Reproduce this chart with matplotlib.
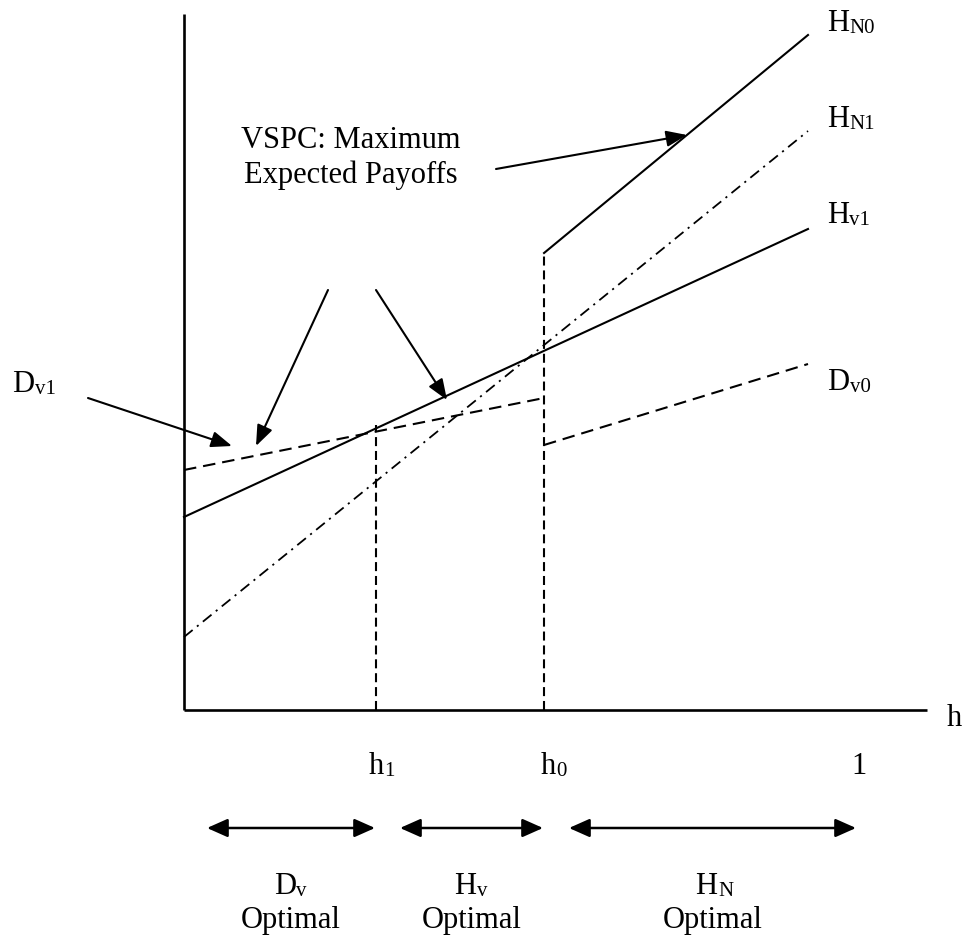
import matplotlib.pyplot as plt

plt.rcParams['font.family'] = ['Liberation Serif', 'DejaVu Serif']
plt.rcParams['lines.scale_dashes'] = False

W, H = 966, 941

# thresholds on the h axis (h = 1 where the payoff lines end)
h1 = 0.308
h0 = 0.577
x_axis_end = 1.19
y_axis_top = 6.96

# expected payoff lines
Dv1_h = [0.0, h0]
Dv1_v = [2.40, 3.12]
Dv0_h = [h0, 1.0]
Dv0_v = [2.65, 3.46]
Hv1_h = [0.0, 1.0]
Hv1_v = [1.93, 4.81]
HN1_h = [0.0, 1.0]
HN1_v = [0.73, 5.79]
HN0_h = [h0, 1.0]
HN0_v = [4.57, 6.75]

# vertical dashed cut-offs
cut_h = [h1, h0]
cut_top = [2.85, 4.57]

# optimal regions along the bottom
regions = ["D", "H", "H"]
region_sub = ["v", "v", "N"]

FS = 22
SUB = 15

fig = plt.figure(figsize=(W / 100, H / 100), dpi=100)
ax = fig.add_axes([0, 0, 1, 1])
ax.set_xlim(-184 / 624, (W - 184) / 624)
ax.set_ylim((710 - H) / 100, 7.10)
ax.axis('off')

# axes
ax.plot([0, 0], [0, y_axis_top], color='black', lw=1.9, solid_capstyle='butt')
ax.plot([0, x_axis_end], [0, 0], color='black', lw=1.9, solid_capstyle='butt')

dash = (9, 5)
dashdot = (8, 4, 1.5, 4)
ax.plot(Dv1_h, Dv1_v, color='black', lw=1.5, dashes=dash)
ax.plot(Dv0_h, Dv0_v, color='black', lw=1.5, dashes=dash)
ax.plot(Hv1_h, Hv1_v, color='black', lw=1.5)
ax.plot(HN1_h, HN1_v, color='black', lw=1.3, dashes=dashdot)
ax.plot(HN0_h, HN0_v, color='black', lw=1.5)
for h, top in zip(cut_h, cut_top):
    ax.plot([h, h], [0, top], color='black', lw=1.5, dashes=(6.5, 3.5))


def fp(x, y):
    return (x, H - y)


def label(x, y, base, sub, ha='left'):
    t = ax.annotate(base, xy=fp(x, y), xycoords='figure pixels',
                    fontsize=FS, ha=ha, va='baseline')
    ax.annotate(sub, xy=(1, 0), xycoords=t, xytext=(0.3, 0),
                textcoords='offset points', fontsize=SUB,
                ha='left', va='bottom')


# line labels on the right
label(827, 31, "H", "N0")
label(827, 127, "H", "N1")
label(827, 223, "H", "v1")
label(827, 390, "D", "v0")
label(12, 392, "D", "v1")

# axis labels
ax.annotate("h", xy=fp(947, 726), xycoords='figure pixels', fontsize=FS, va='baseline')
label(369, 774, "h", "1")
label(541, 774, "h", "0")
ax.annotate("1", xy=fp(859, 774), xycoords='figure pixels', fontsize=FS,
            ha='center', va='baseline')

# VSPC annotation
ax.annotate("VSPC: Maximum\nExpected Payoffs", xy=fp(351, 158), xycoords='figure pixels',
            fontsize=FS, ha='center', va='center', multialignment='center',
            linespacing=1.2)

arrow = dict(arrowstyle='-|>,head_length=0.9,head_width=0.35', color='black',
             lw=1.5, mutation_scale=14, shrinkA=0, shrinkB=0)
for tail, tip in [((496, 169), (687, 135)),
                  ((328, 290), (256, 446)),
                  ((376, 290), (447, 400)),
                  ((88, 398), (232, 446))]:
    ax.annotate("", xy=fp(*tip), xytext=fp(*tail), xycoords='figure pixels',
                textcoords='figure pixels', arrowprops=arrow)

# optimal regions
spans = [(207, 375), (400, 543), (569, 856)]
darrow = dict(arrowstyle='<|-|>,head_length=0.9,head_width=0.4', color='black',
              lw=1.8, mutation_scale=14, shrinkA=0, shrinkB=0)
for (a, b), base, sub in zip(spans, regions, region_sub):
    ax.annotate("", xy=fp(b, 828), xytext=fp(a, 828), xycoords='figure pixels',
                textcoords='figure pixels', arrowprops=darrow)
    mid = (a + b) / 2
    label(mid + 5, 894, base, sub, ha='right')
    ax.annotate("Optimal", xy=fp(mid, 928), xycoords='figure pixels', fontsize=FS,
                ha='center', va='baseline')

fig.savefig("out.png", dpi=100)
